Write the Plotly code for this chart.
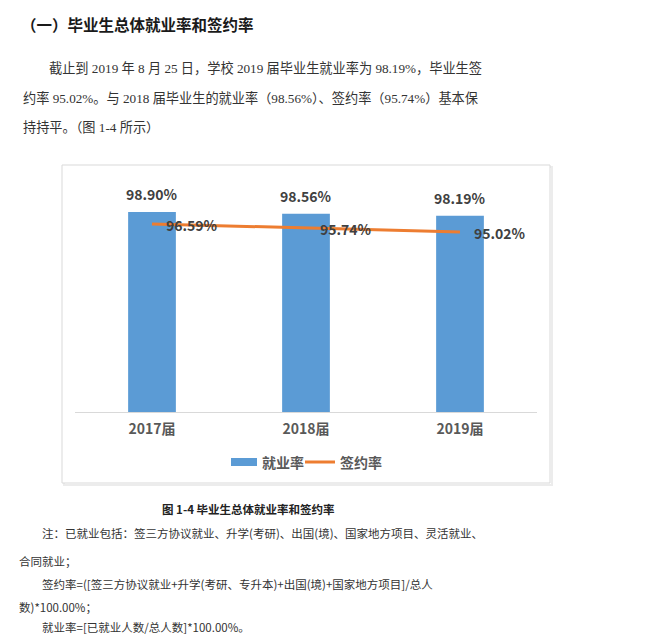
import plotly.graph_objects as go

categories = ["2017届", "2018届", "2019届"]
employment_rate = [98.90, 98.56, 98.19]
signing_rate = [96.59, 95.74, 95.02]
series_names = ["就业率", "签约率"]

W, H = 650, 644
def px(x): return x / W
def py(y): return 1 - y / H

CJK = "Noto Sans CJK SC"
SERIF = "Liberation Serif, Noto Sans CJK SC"
BLUE = "#5B9BD5"
ORANGE = "#ED7D31"

fig = go.Figure()
fig.add_trace(go.Bar(x=categories, y=employment_rate, name=series_names[0],
                     marker=dict(color=BLUE, line=dict(width=0)), width=0.31,
                     showlegend=False, hoverinfo="skip"))
fig.add_trace(go.Scatter(x=categories, y=signing_rate, name=series_names[1],
                         mode="lines", line=dict(color=ORANGE, width=3),
                         showlegend=False, hoverinfo="skip"))

annotations = []
for c, v in zip(categories, employment_rate):
    annotations.append(dict(x=c, y=v, xref="x", yref="y", text=f"<b>{v:.2f}%</b>",
                            showarrow=False, yanchor="middle", yshift=18,
                            font=dict(family=CJK, size=14, color="#404040")))
for c, v in zip(categories, signing_rate):
    annotations.append(dict(x=c, y=v, xref="x", yref="y", text=f"<b>{v:.2f}%</b>",
                            showarrow=False, xanchor="left", yanchor="middle",
                            xshift=12, yshift=-1,
                            font=dict(family=CJK, size=14, color="#404040")))

def txt(x, y, s, size, color="#333333", family=CJK, anchor="left"):
    annotations.append(dict(x=px(x), y=py(y), xref="paper", yref="paper", text=s,
                            showarrow=False, xanchor=anchor, yanchor="middle",
                            font=dict(family=family, size=size, color=color)))

# document text
txt(19, 24, "<b>（一）毕业生总体就业率和签约率</b>", 15.5, "#1a1a1a")
txt(47, 68, "截止到 2019 年 8 月 25 日，学校 2019 届毕业生就业率为 98.19%，毕业生签", 13.2, "#333333", SERIF)
txt(21, 98, "约率 95.02%。与 2018 届毕业生的就业率（98.56%）、签约率（95.74%）基本保", 13.2, "#333333", SERIF)
txt(21, 128, "持持平。（图 1-4 所示）", 13.2, "#333333", SERIF)

txt(248, 509, "<b>图 1-4 毕业生总体就业率和签约率</b>", 11.5, "#222222", anchor="center")
txt(40, 533, "注：已就业包括：签三方协议就业、升学(考研)、出国(境)、国家地方项目、灵活就业、", 11.5)
txt(17, 561, "合同就业；", 11.5)
txt(40, 584, "签约率=([签三方协议就业+升学(考研、专升本)+出国(境)+国家地方项目]/总人", 11.5)
txt(17, 607, "数)*100.00%；", 11.5)
txt(40, 627, "就业率=[已就业人数/总人数]*100.00%。", 11.5)

# legend (manual)
txt(260, 462, "<b>" + series_names[0] + "</b>", 14, "#595959")
txt(338, 462, "<b>" + series_names[1] + "</b>", 14, "#595959")

shapes = [
    dict(type="rect", xref="paper", yref="paper", x0=px(64), x1=px(552), y0=py(485), y1=py(167),
         line=dict(color="#ececec", width=2), fillcolor="rgba(0,0,0,0)", layer="below"),
    dict(type="rect", xref="paper", yref="paper", x0=px(62), x1=px(550), y0=py(483), y1=py(165),
         line=dict(color="#d9d9d9", width=1), fillcolor="white", layer="below"),
    dict(type="rect", xref="paper", yref="paper", x0=px(231), x1=px(257), y0=py(466), y1=py(458),
         line=dict(width=0), fillcolor=BLUE),
    dict(type="line", xref="paper", yref="paper", x0=px(305), x1=px(335), y0=py(462), y1=py(462),
         line=dict(color=ORANGE, width=3)),
]

fig.update_layout(
    width=W, height=H, margin=dict(l=0, r=0, t=0, b=0),
    paper_bgcolor="white", plot_bgcolor="rgba(0,0,0,0)",
    xaxis=dict(domain=[px(75), px(537)], showline=True, linecolor="#d9d9d9", linewidth=1,
               ticks="", showgrid=False, zeroline=False,
               tickfont=dict(family=CJK, size=14, color="#595959"),
               tickvals=categories, ticktext=[f"<b>{c}</b>" for c in categories],
               ticklabelstandoff=4),
    yaxis=dict(domain=[py(412), py(180.7)], range=[60, 105], visible=False),
    annotations=annotations, shapes=shapes,
)

fig.write_html("out.html")
